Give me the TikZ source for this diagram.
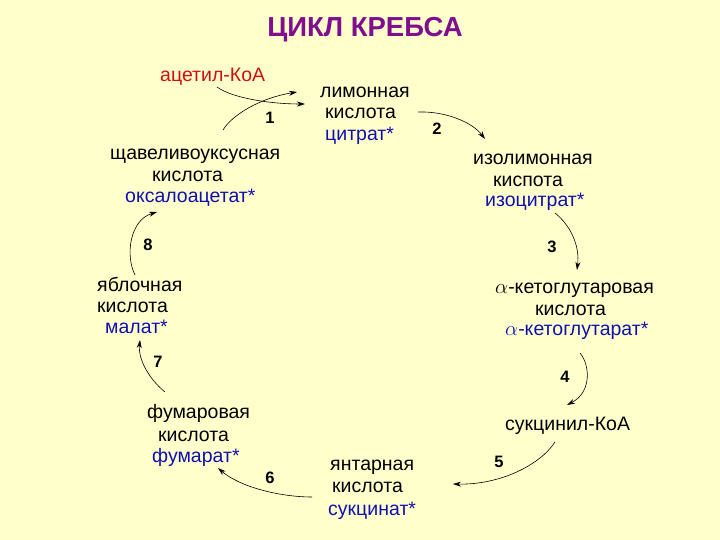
\documentclass[tikz,border=0pt]{standalone}
\usepackage{fontspec}
\setmainfont{Liberation Sans}
\definecolor{clBg}{HTML}{FFFFCC}
\definecolor{clTitle}{HTML}{7F0F8F}
\definecolor{clAcyl}{HTML}{D01010}
\definecolor{clAnion}{HTML}{1010B0}
\usetikzlibrary{arrows.meta}

\begin{document}
\begin{tikzpicture}[x=1pt,y=-1pt,
  every node/.style={font=\fontsize{19.5}{22}\selectfont,anchor=base west,inner sep=0pt},
  anion/.style={text=clAnion},
  num/.style={font=\fontsize{16.5}{18}\selectfont\bfseries,anchor=center},
  rx/.style={-{Stealth[length=8pt,width=5pt,inset=2.5pt]},line width=0.6pt}]
  \fill[clBg] (0,0) rectangle (720,540);
  \useasboundingbox (0,0) rectangle (720,540);
  \node[font=\fontsize{27.5}{30}\selectfont\bfseries,text=clTitle,anchor=base] (title) at (365,37){ЦИКЛ КРЕБСА};
  % intermediates
  \node[text=clAcyl] (acoa) at (160,82){ацетил-КоА};
  \node (cit1) at (320,98){лимонная}; \node (cit2) at (325,119){кислота}; \node[anion] (cit3) at (325,141){цитрат*};
  \node (icit1) at (473,165){изолимонная}; \node (icit2) at (493,187){киспота}; \node[anion] (icit3) at (485,207){изоцитрат*};
  \node (akg1) at (495,293){$\alpha$-кетоглутаровая}; \node (akg2) at (535,315){кислота};
  \node[anion] (akg3) at (505,335){$\alpha$-кетоглутарат*};
  \node (scoa) at (505,430){сукцинил-КоА};
  \node (suc1) at (330,470){янтарная}; \node (suc2) at (332,492){кислота}; \node[anion] (suc3) at (328,515){сукцинат*};
  \node (fum1) at (147,418){фумаровая}; \node (fum2) at (158,441){кислота}; \node[anion] (fum3) at (152,462){фумарат*};
  \node (mal1) at (97,291){яблочная}; \node (mal2) at (97,312){кислота}; \node[anion] (mal3) at (105,333){малат*};
  \node (oaa1) at (110,160){щавеливоуксусная}; \node (oaa2) at (152,182){кислота}; \node[anion] (oaa3) at (125,203){оксалоацетат*};
  % step numbers
  \foreach \n/\x/\y in {1/270/118,2/437/129,3/552/247,4/565/377,5/499/462,6/270/478,7/158/362,8/148/245}
    \node[num] (n\n) at (\x,\y){\n};
  % reactions
  \coordinate (a1s) at (217,87); \coordinate (a1e) at (305,104);
  \coordinate (b1s) at (223,130); \coordinate (b1e) at (297,92);
  \coordinate (a2s) at (418,112); \coordinate (a2e) at (485,139);
  \coordinate (a3s) at (555,213); \coordinate (a3e) at (577,270);
  \coordinate (a4s) at (580,353); \coordinate (a4e) at (567,405);
  \coordinate (a5s) at (555,442); \coordinate (a5e) at (453,484);
  \coordinate (a6s) at (312,497); \coordinate (a6e) at (218,468);
  \coordinate (a7s) at (165,392); \coordinate (a7e) at (140,340);
  \coordinate (a8s) at (135,275); \coordinate (a8e) at (157,212);
  \draw[rx] (a1s) .. controls (232,98) and (270,104) .. (a1e);
  \draw[rx] (b1s) .. controls (232,115) and (260,98) .. (b1e);
  \draw[rx] (a2s) .. controls (445,111) and (472,122) .. (a2e);
  \draw[rx] (a3s) .. controls (570,225) and (580,245) .. (a3e);
  \draw[rx] (a4s) .. controls (590,365) and (592,392) .. (a4e);
  \draw[rx] (a5s) .. controls (540,465) and (500,485) .. (a5e);
  \draw[rx] (a6s) .. controls (280,497) and (240,487) .. (a6e);
  \draw[rx] (a7s) .. controls (150,380) and (138,360) .. (a7e);
  \draw[rx] (a8s) .. controls (125,255) and (130,220) .. (a8e);
\end{tikzpicture}
\end{document}
